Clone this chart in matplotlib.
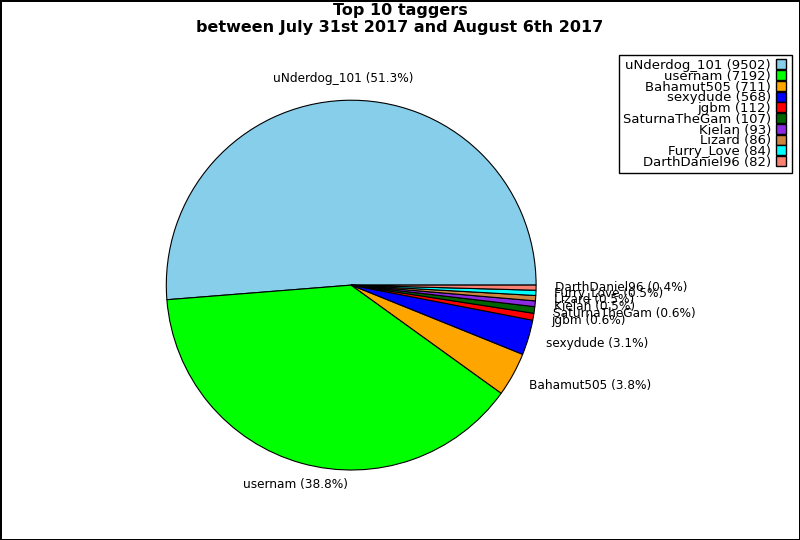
import matplotlib
matplotlib.use('Agg')
import matplotlib.pyplot as plt
import numpy as np

names = ['uNderdog_101', 'usernam', 'Bahamut505', 'sexydude', 'jgbm',
         'SaturnaTheGam', 'Kielan', 'Lizard', 'Furry_Love', 'DarthDaniel96']
counts = [9502, 7192, 711, 568, 112, 107, 93, 86, 84, 82]
colors = ['skyblue', 'lime', 'orange', 'blue', 'red',
          'darkgreen', 'blueviolet', 'peru', 'cyan', 'salmon']

total = sum(counts)
pie_labels = ['%s (%.1f%%)' % (n, c * 100.0 / total) for n, c in zip(names, counts)]
legend_labels = ['%s (%d)' % (n, c) for n, c in zip(names, counts)]

fig = plt.figure(figsize=(8, 5.4), dpi=100, edgecolor='black', linewidth=1)
ax = fig.add_axes([0.15, 0.044, 0.578, 0.856])
wedges, texts = ax.pie(counts, labels=pie_labels, colors=colors, startangle=0,
                       counterclock=True, labeldistance=1.12,
                       wedgeprops=dict(edgecolor='black', linewidth=0.8),
                       textprops=dict(fontsize=8.75))
ax.set_aspect('equal')

# labels near the vertical get centred like in the original
for w, t in zip(wedges, texts):
    mid = np.deg2rad((w.theta1 + w.theta2) / 2.0)
    if abs(np.cos(mid)) < 0.35:
        t.set_ha('center')
    else:
        x, y = t.get_position()
        t.set_position((x - 0.02, y))

fig.suptitle('Top 10 taggers\nbetween July 31st 2017 and August 6th 2017',
             fontsize=11.5, fontweight='bold', y=0.995)

handles = [plt.Line2D([], [], marker='s', linestyle='none', markersize=7.5,
                      markerfacecolor=c, markeredgecolor='black', markeredgewidth=1)
           for c in colors]
leg = fig.legend(handles, legend_labels, loc='upper right', bbox_to_anchor=(0.99, 0.898),
                 markerfirst=False, fontsize=9.5, labelspacing=-0.17, handletextpad=0.3,
                 handlelength=1.0, fancybox=False, framealpha=1, borderpad=0.3,
                 borderaxespad=0.0)
leg.get_frame().set_edgecolor('black')
leg.get_frame().set_linewidth(1.0)
for t in leg.get_texts():
    t.set_ha('right')
leg._legend_box.align = 'right'

fig.savefig('out.png', dpi=100, edgecolor=fig.get_edgecolor())
